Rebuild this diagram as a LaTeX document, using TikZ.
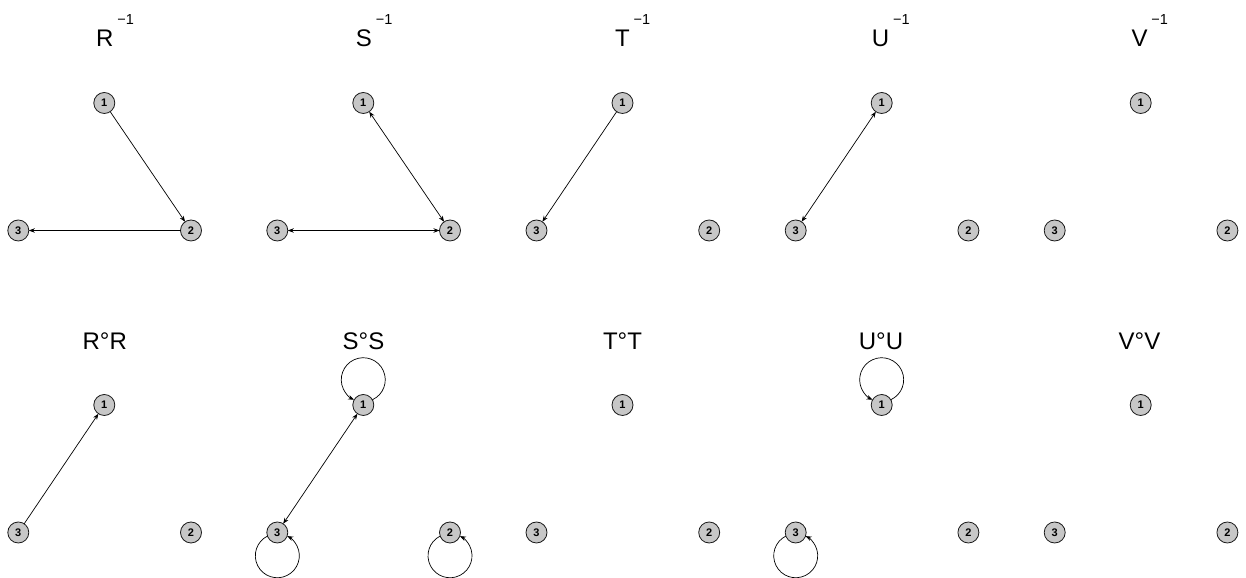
\documentclass[tikz,border=0pt]{standalone}
\usepackage{fontspec}
\setmainfont{Liberation Sans}
\usetikzlibrary{arrows.meta}
\begin{document}
\begin{tikzpicture}[x=1bp,y=1bp,
  vtx/.style={circle,draw=black!90,fill=black!22,line width=0.8bp,minimum size=21bp,inner sep=0pt,outer sep=0pt,font=\fontsize{11bp}{12bp}\selectfont\bfseries},
  ttl/.style={inner sep=0pt,font=\fontsize{24bp}{28bp}\selectfont},
  suptxt/.style={inner sep=0pt,font=\fontsize{14.5bp}{16bp}\selectfont},
  arr/.style={line width=0.7bp,-{Stealth[length=6bp,width=4.5bp]}},
  darr/.style={line width=0.7bp,{Stealth[length=6bp,width=4.5bp]}-{Stealth[length=6bp,width=4.5bp]}}
]
\useasboundingbox (0,0) rectangle (1246,578);
\newcommand\mytrio[3]{%
  \node[vtx] (#1-1) at (#2,#3) {1};
  \node[vtx] (#1-2) at (#2+86.7,#3-127.5) {2};
  \node[vtx] (#1-3) at (#2-86,#3-127.5) {3};}
\newcommand\mytopttl[3]{%
  \node[ttl,anchor=base] (#1-t) at (#2,531) {#3};
  \node[suptxt,anchor=base west] (#1-s) at ([xshift=3.5bp,yshift=22bp]#1-t.base east) {−1};}
\newcommand\mybotttl[3]{%
  \node[ttl,anchor=base] (#1-t) at (#2,228) {#3°#3};}
% top row
\mytrio{a}{104.3}{475}
\mytrio{b}{363.3}{475}
\mytrio{c}{622.5}{475}
\mytrio{d}{881.7}{475}
\mytrio{e}{1140.7}{475}
\mytopttl{a}{104.8}{R}
\mytopttl{b}{364}{S}
\mytopttl{c}{622.5}{T}
\mytopttl{d}{880.5}{U}
\mytopttl{e}{1139.5}{V}
% bottom row
\mytrio{f}{104.3}{173}
\mytrio{g}{363.3}{173}
\mytrio{h}{622.5}{173}
\mytrio{i}{881.7}{173}
\mytrio{j}{1140.7}{173}
\mybotttl{f}{104.8}{R}
\mybotttl{g}{363.5}{S}
\mybotttl{h}{622.5}{T}
\mybotttl{i}{881}{U}
\mybotttl{j}{1139.5}{V}
% edges top
\draw[arr] (a-1) -- (a-2);
\draw[arr] (a-2) -- (a-3);
\draw[darr] (b-1) -- (b-2);
\draw[darr] (b-3) -- (b-2);
\draw[arr] (c-1) -- (c-3);
\draw[darr] (d-1) -- (d-3);
% edges bottom
\draw[arr] (f-3) -- (f-1);
\draw[darr] (g-1) -- (g-3);
\draw[arr] (g-1.30) arc[start angle=-65.5,end angle=245.5,radius=22bp];
\draw[arr] (g-3.200) arc[start angle=116.7,end angle=423.3,radius=22bp];
\draw[arr] (g-2.200) arc[start angle=116.7,end angle=423.3,radius=22bp];
\draw[arr] (i-1.30) arc[start angle=-65.5,end angle=245.5,radius=22bp];
\draw[arr] (i-3.200) arc[start angle=116.7,end angle=423.3,radius=22bp];
\end{tikzpicture}
\end{document}
